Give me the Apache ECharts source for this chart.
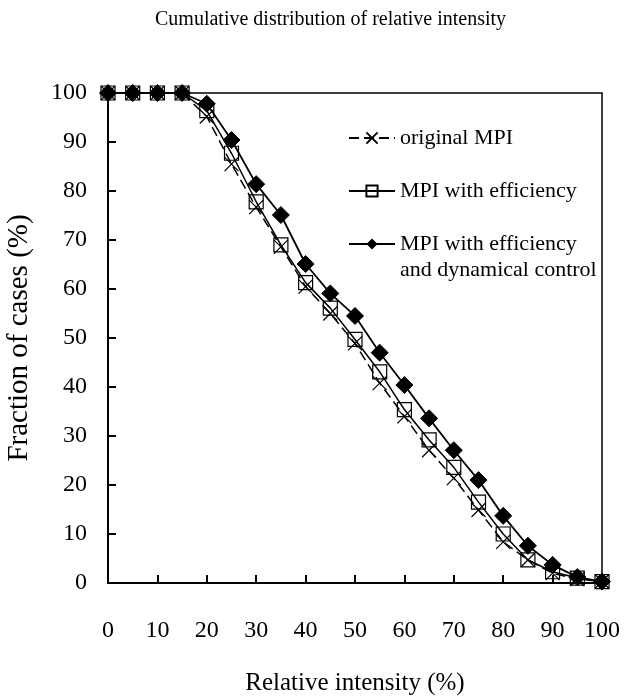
<!DOCTYPE html>
<html>
<head>
<meta charset="utf-8">
<script src="https://cdn.jsdelivr.net/npm/echarts@6/dist/echarts.min.js"></script>
<style>
html,body{margin:0;padding:0;background:#fff;}
#main{width:628px;height:696px;}
</style>
</head>
<body>
<div id="main"></div>
<script>
// Data
const xValues = [0,5,10,15,20,25,30,35,40,45,50,55,60,65,70,75,80,85,90,95,100];
const originalMPI = [100,100,100,100,95.2,85.5,76.7,68.6,60.5,55.0,48.9,40.8,34.0,27.1,21.4,14.9,8.4,4.7,2.0,0.8,0.3];
const mpiEfficiency = [100,100,100,100,96.4,87.7,77.8,69.0,61.3,56.1,49.7,43.1,35.4,29.2,23.6,16.5,10.0,4.7,2.3,1.0,0.3];
const mpiDynamic = [100,100,100,100,97.8,90.4,81.4,75.1,65.1,59.1,54.5,47.0,40.4,33.6,27.1,21.0,13.7,7.6,3.7,1.2,0.3];
const seriesNames = ['original MPI','MPI with efficiency','MPI with efficiency'];
const legendSecondLine = 'and dynamical control';
const titleText = 'Cumulative distribution of relative intensity';
const xTitle = 'Relative intensity (%)';
const yTitle = 'Fraction of cases (%)';

const FONT = '"Liberation Serif","Times New Roman",serif';
const pair = arr => xValues.map((x,i)=>[x,arr[i]]);

const chart = echarts.init(document.getElementById('main'), null, {renderer:'canvas'});
chart.setOption({
  backgroundColor:'#fff',
  animation:false,
  title:{
    text:titleText, left:150, top:5,
    textStyle:{fontFamily:FONT,fontSize:20,fontWeight:'normal',color:'#000'}
  },
  grid:{left:108,right:26,top:93,bottom:113,show:true,borderColor:'#000',borderWidth:1.5,
        backgroundColor:'transparent',outerBoundsMode:'none',containLabel:false},
  xAxis:{
    type:'value',min:0,max:100,interval:10,
    name:xTitle,nameLocation:'middle',nameGap:88,
    nameTextStyle:{fontFamily:FONT,fontSize:25,color:'#000'},
    axisLine:{show:true,lineStyle:{color:'#000',width:2}},
    axisTick:{show:true,inside:true,length:8,lineStyle:{color:'#000',width:2}},
    axisLabel:{fontFamily:FONT,fontSize:24,color:'#000',margin:36},
    splitLine:{show:false}
  },
  yAxis:{
    type:'value',min:0,max:100,interval:10,
    name:yTitle,nameLocation:'middle',nameGap:74,nameRotate:90,
    nameTextStyle:{fontFamily:FONT,fontSize:29,color:'#000'},
    axisLine:{show:true,lineStyle:{color:'#000',width:2}},
    axisTick:{show:true,inside:true,length:8,lineStyle:{color:'#000',width:2}},
    axisLabel:{fontFamily:FONT,fontSize:24,color:'#000',margin:21},
    splitLine:{show:false}
  },
  legend:{
    orient:'vertical',left:343,top:121,
    itemWidth:46,itemHeight:14,itemGap:29,
    textStyle:{fontFamily:FONT,fontSize:22,color:'#000',lineHeight:24},
    data:[
      {name:seriesNames[0]},
      {name:seriesNames[1]+' '},
      {name:seriesNames[2]}
    ]
  },
  graphic:[{
    type:'text',left:400,top:259,
    style:{text:legendSecondLine,font:'22px '+FONT,fill:'#000'}
  }],
  series:[
    {
      name:seriesNames[0],type:'line',data:pair(originalMPI),z:3,
      symbol:'path://M0,0L10,10M10,0L0,10',symbolSize:14,
      lineStyle:{color:'#000',width:1.5,type:[10,5]},
      itemStyle:{color:'none',borderColor:'#000',borderWidth:1.2}
    },
    {
      name:seriesNames[1]+' ',type:'line',data:pair(mpiEfficiency),z:4,
      symbol:'rect',symbolSize:14,
      lineStyle:{color:'#000',width:1.5,type:'solid'},
      itemStyle:{color:'rgba(255,255,255,0)',borderColor:'#000',borderWidth:1.2}
    },
    {
      name:seriesNames[2],type:'line',data:pair(mpiDynamic),z:5,
      symbol:'diamond',symbolSize:17,
      lineStyle:{color:'#000',width:1.8,type:'solid'},
      itemStyle:{color:'#000',borderColor:'#000'}
    }
  ]
});
</script>
</body>
</html>
